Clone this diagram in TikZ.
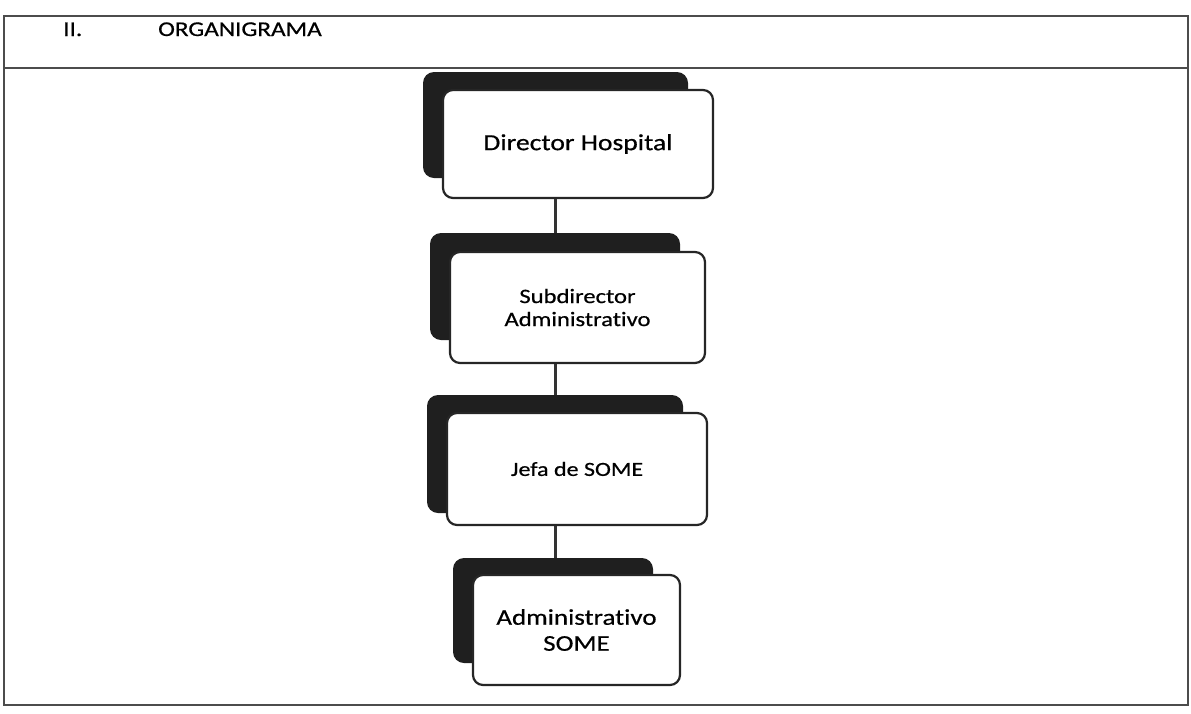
\documentclass[tikz,border=0pt]{standalone}
\usepackage{fontspec}
\setmainfont{Carlito}[FakeStretch=1.2,FakeBold=0.6,Ligatures={NoCommon}]
\begin{document}
\begin{tikzpicture}[x=1pt,y=-1pt,
  shadowbox/.style={draw=none,fill=black!88,rounded corners=11pt,inner sep=0pt},
  frontbox/.style={draw=black!85,line width=2.2pt,fill=white,rounded corners=10pt,inner sep=0pt,align=center,text=black},
  link/.style={draw=black!80,line width=3pt},
  frame/.style={draw=black!70,line width=1.6pt}
]
\useasboundingbox (0,0) rectangle (1191,713);
% outer frame and header
\draw[frame] (4,16) rectangle (1188,705);
\draw[frame] (4,68) -- (1188,68);
\node[anchor=base west,inner sep=0pt,font=\fontsize{21}{25}\selectfont] (num) at (63,36) {II.};
\node[anchor=base west,inner sep=0pt,font=\fontsize{21}{25}\selectfont] (title) at (158,36) {ORGANIGRAMA};

\coordinate (spine) at (555,0);

% box 1
\node[shadowbox,minimum width=265pt,minimum height=106pt] (s1) at (555.5,125) {};
\node[frontbox,minimum width=270pt,minimum height=108pt,font=\fontsize{23}{27}\selectfont] (f1) at (578,144) {Director Hospital};
% box 2
\node[shadowbox,minimum width=250pt,minimum height=107pt] (s2) at (555,286.5) {};
\node[frontbox,minimum width=255pt,minimum height=111pt,font=\fontsize{20.5}{23}\selectfont] (f2) at (577.5,307.5) {Subdirector\\Administrativo};
% box 3
\node[shadowbox,minimum width=256pt,minimum height=118pt] (s3) at (555,454) {};
\node[frontbox,minimum width=260pt,minimum height=112pt,font=\fontsize{20}{24}\selectfont] (f3) at (577,469) {Jefa de SOME};
% box 4
\node[shadowbox,minimum width=200pt,minimum height=105pt] (s4) at (553,610.5) {};
\node[frontbox,minimum width=207pt,minimum height=110pt,font=\fontsize{22.5}{26}\selectfont] (f4) at (576.5,630) {Administrativo\\SOME};

% connectors
\draw[link] (spine |- f1.south) -- (spine |- s2.north);
\draw[link] (spine |- f2.south) -- (spine |- s3.north);
\draw[link] (spine |- f3.south) -- (spine |- s4.north);
\end{tikzpicture}
\end{document}
